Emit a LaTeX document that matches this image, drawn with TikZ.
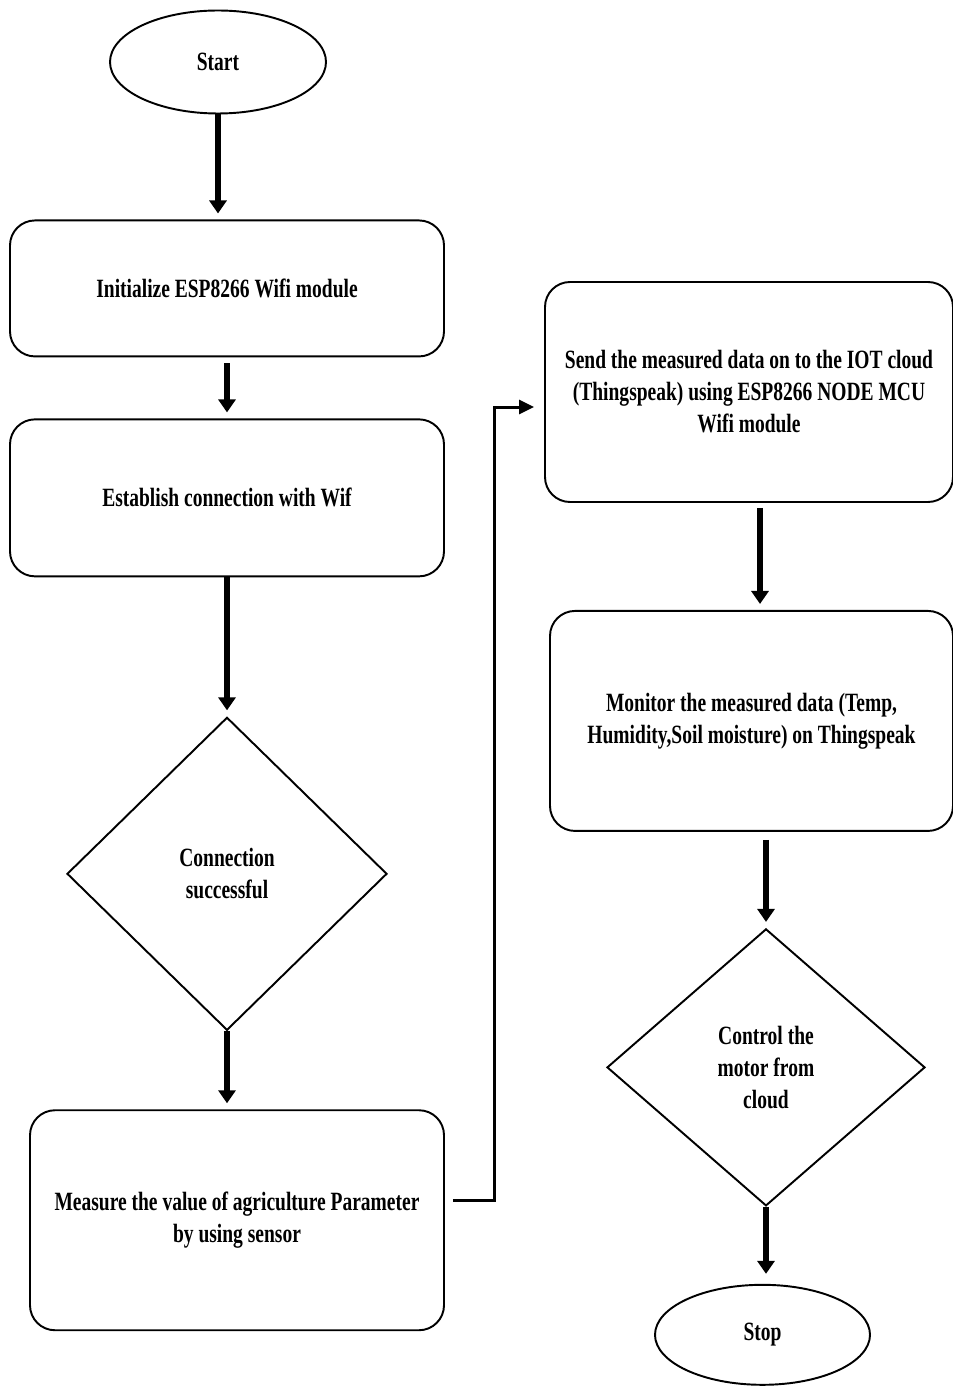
\documentclass[tikz,border=0pt]{standalone}
\usepackage{fontspec}
\setmainfont{Liberation Serif}[FakeStretch=0.74]
\usepackage{tikz}
\usetikzlibrary{
  arrows.meta,
  positioning,
  shapes.geometric
}

\begin{document}
\begin{tikzpicture}[
    font=\bfseries\fontsize{15}{18.2}\selectfont,
    caixa/.style={
    draw,
    rounded corners=0.5cm,
    minimum width=8.68cm,
    minimum height=2.72cm,
    align=center,
    fill=white,
    line width=1.1pt
    },
    losango/.style={
    draw,
    diamond,
    inner sep=0pt,
    align=center,
    line width=1.1pt
    },
    elipse/.style={
    draw,
    ellipse,
    inner sep=0pt,
    minimum width=4.32cm,
    minimum height=2.06cm,
    line width=1.1pt
    },
    seta/.style={-{Triangle[length=0.26cm,width=0.34cm]},line width=0.13cm,shorten >=0.12cm},
    setafina/.style={-{Triangle[length=0.3cm,width=0.28cm]},line width=0.06cm}
    ]
    
    \useasboundingbox (0,0) rectangle (19.06,-27.78);
    
    % coluna da esquerda
    \node[elipse] (start) at (4.36,-1.24)
    {Start};
    
    \node[caixa,below=2.1cm of start,xshift=0.18cm]
    (init){Initialize ESP8266 Wifi module};
    
    \node[caixa,below=1.22cm of init,minimum height=3.14cm]
    (conex){Establish connection with Wif};
    
    \node[losango,below=2.78cm of conex,minimum width=6.4cm,minimum height=6.26cm]
    (dec){Connection\\successful};
    
    \node[caixa,below=1.56cm of dec,xshift=0.2cm,minimum width=8.28cm,minimum height=4.4cm]
    (medir){Measure the value of agriculture Parameter\\by using sensor};
    
    % coluna da direita
    \node[caixa,minimum width=8.16cm,minimum height=4.4cm] (envio) at (14.98,-7.84)
    {Send the measured data on to the IOT cloud\\(Thingspeak) using ESP8266 NODE MCU\\Wifi module};
    
    \node[caixa,below=2.14cm of envio,xshift=0.05cm,minimum width=8.06cm,minimum height=4.4cm]
    (monit){Monitor the measured data (Temp,\\Humidity,Soil moisture) on Thingspeak};
    
    \node[losango,below=1.92cm of monit,xshift=0.29cm,minimum width=6.36cm,minimum height=5.54cm]
    (ctrl){Control the\\motor from\\cloud};
    
    \node[elipse,below=1.54cm of ctrl,xshift=-0.07cm,minimum width=4.3cm,minimum height=2cm]
    (stop){Stop};
    
    \draw[seta](start)--(start |- init.north);
    \draw[seta,shorten <=0.12cm](init)--(conex);
    \draw[seta](conex)--(conex |- dec.north);
    \draw[seta](dec)--(dec |- medir.north);
    \draw[setafina,shorten <=0.16cm,shorten >=0.2cm]
    ([yshift=0.4cm]medir.east)--++(1cm,0)|-([yshift=-0.3cm]envio.west);
    \draw[seta,shorten <=0.1cm]([xshift=0.22cm]envio.south)--([xshift=0.22cm]envio.south |- monit.north);
    \draw[seta,shorten <=0.16cm](ctrl |- monit.south)--(ctrl.north);
    \draw[seta,shorten >=0.2cm](ctrl)--(ctrl |- stop.north);
    
    \end{tikzpicture}
\end{document}
